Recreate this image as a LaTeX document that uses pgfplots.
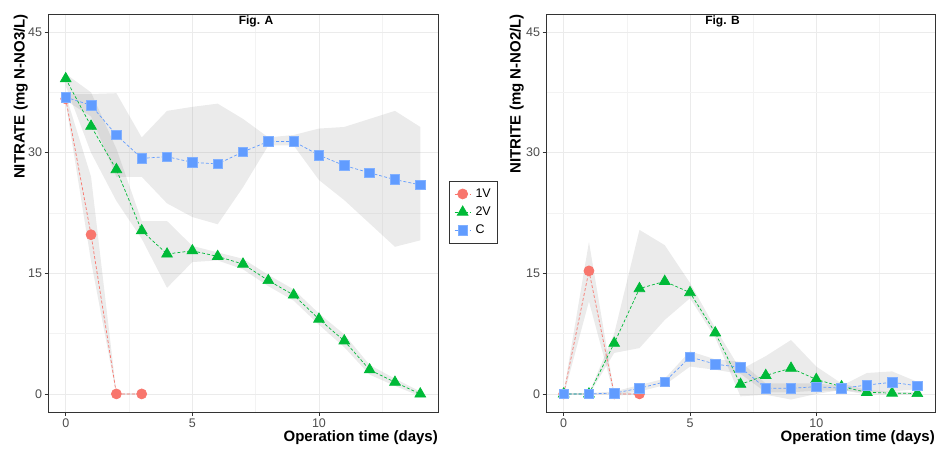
\documentclass[border=0pt]{standalone}
\usepackage{fontspec}
\setmainfont{Liberation Sans}
\usepackage{pgfplots}
\pgfplotsset{compat=1.18}
\definecolor{c1}{HTML}{F8766D}
\definecolor{c2}{HTML}{00BA38}
\definecolor{c3}{HTML}{619CFF}
\definecolor{gridc}{HTML}{EBEBEB}
\definecolor{gridm}{HTML}{F3F3F3}
\definecolor{framec}{HTML}{333333}
\definecolor{tickc}{HTML}{4D4D4D}
\pgfplotsset{
 panel/.style={
  scale only axis, height=398pt,
  xmin=-0.7,xmax=14.7,ymin=-2.25,ymax=47.25,
  xtick={0,5,10}, ytick={0,15,30,45},
  minor xtick={2.5,7.5,12.5}, minor ytick={7.5,22.5,37.5},
  grid=both,
  major grid style={draw=gridc, line width=0.8pt},
  minor grid style={draw=gridm, line width=0.5pt},
  axis line style={draw=framec, line width=0.8pt},
  tick align=outside, tick pos=left,
  major tick length=3.5pt, minor tick length=0pt,
  every tick/.style={draw=framec, line width=0.8pt},
  tick label style={font=\fontsize{12.5}{13}\selectfont, text=tickc},
  yticklabel style={xshift=1pt},
  /pgf/number format/assume math mode=true,
 },
 rib/.style={fill=black!40, fill opacity=0.2, draw=none, forget plot},
 s1/.style={c1, dash pattern=on 3pt off 2pt, line width=0.7pt, mark=*, mark size=5pt, mark options={solid, fill=c1, draw=c1}},
 s2/.style={c2, dash pattern=on 3pt off 2pt, line width=0.7pt, mark=triangle*, mark size=6.2pt, mark options={solid, fill=c2, draw=c2}},
 s3/.style={c3, dash pattern=on 3pt off 2pt, line width=0.7pt, mark=square*, mark size=4.8pt, mark options={solid, fill=c3, draw=c3!80!white}},
}
\begin{document}
\begin{tikzpicture}
\useasboundingbox (0,0) rectangle (936pt,448pt);
% ---------- Fig. A ----------
\begin{axis}[panel, width=390pt, at={(48pt,36pt)}, anchor=south west,
  legend style={at={(1.028,0.5804)}, anchor=north west, draw=framec, line width=0.8pt,
    font=\fontsize{12.5}{14}\selectfont, cells={anchor=west}, row sep=5pt,
    inner xsep=5pt, inner ysep=6pt, nodes={inner sep=1.5pt},
    /tikz/every odd column/.append style={column sep=3pt}},
  legend image code/.code={\draw[mark repeat=2,mark phase=2,#1] plot coordinates {(0pt,0pt) (8pt,0pt) (16pt,0pt)};}]
% ribbons
\addplot[rib] coordinates {(0,37.2)(1,27)(2,0.1)(3,0.1)(3,-0.1)(2,-0.1)(1,16.5)(0,36.2)} -- cycle;
\addplot[rib] coordinates {(0,39.8)(1,37.5)(2,30.5)(3,21.5)(4,21.5)(5,18.4)(6,17.6)(7,16.8)(8,14.8)(9,13.0)(10,10.0)(11,7.4)(12,3.6)(13,1.9)(14,0.3)
 (14,-0.3)(13,1.0)(12,2.4)(11,5.8)(10,8.6)(9,11.6)(8,13.4)(7,15.5)(6,16.6)(5,16.4)(4,13.2)(3,19.3)(2,24.0)(1,30.0)(0,38.3)} -- cycle;
\addplot[rib] coordinates {(0,37.3)(1,37.3)(2,37.4)(3,31.9)(4,35.2)(5,35.7)(6,36.1)(7,34.2)(8,31.9)(9,32.2)(10,33.0)(11,33.2)(12,34.2)(13,35.2)(14,33.2)
 (14,19.1)(13,18.3)(12,21.2)(11,24.1)(10,26.6)(9,30.9)(8,30.9)(7,25.7)(6,21.1)(5,22.0)(4,23.7)(3,27.0)(2,27.0)(1,34.5)(0,36.5)} -- cycle;
% series
\addplot[s1] coordinates {(0,36.7)(1,19.8)(2,0)(3,0)};
\addlegendentry{1V}
\addplot[s2] coordinates {(0,39.2)(1,33.3)(2,27.9)(3,20.3)(4,17.4)(5,17.8)(6,17.1)(7,16.15)(8,14.1)(9,12.3)(10,9.3)(11,6.6)(12,3.0)(13,1.45)(14,0)};
\addlegendentry{2V}
\addplot[s3] coordinates {(0,36.9)(1,35.9)(2,32.2)(3,29.3)(4,29.5)(5,28.8)(6,28.6)(7,30.1)(8,31.4)(9,31.4)(10,29.7)(11,28.4)(12,27.5)(13,26.65)(14,26.0)};
\addlegendentry{C}
\end{axis}
% ---------- Fig. B ----------
\begin{axis}[panel, width=389pt, at={(546pt,36pt)}, anchor=south west]
\addplot[rib] coordinates {(0,0.2)(1,18.9)(2,0.2)(3,0.1)(3,-0.1)(2,-0.2)(1,11.5)(0,-0.2)} -- cycle;
\addplot[rib] coordinates {(0,0.1)(1,0.1)(2,7.5)(3,20.4)(4,18.5)(5,13.8)(6,8.2)(7,3.0)(8,4.7)(9,6.7)(10,3.4)(11,1.3)(12,0.5)(13,0.3)(14,0.2)
 (14,-0.1)(13,-0.1)(12,-0.1)(11,0.5)(10,0)(9,-0.7)(8,-0.1)(7,-0.3)(6,7.0)(5,11.9)(4,9.2)(3,5.7)(2,5.1)(1,-0.1)(0,-0.1)} -- cycle;
\addplot[rib] coordinates {(0,0.1)(1,0.1)(2,0.3)(3,1.1)(4,1.9)(5,5.3)(6,4.3)(7,4.0)(8,1.3)(9,1.3)(10,1.3)(11,1.0)(12,2.6)(13,2.8)(14,1.5)
 (14,0.6)(13,0.3)(12,0.2)(11,0.4)(10,0.4)(9,0.2)(8,0.2)(7,2.5)(6,3.0)(5,3.4)(4,1.1)(3,0.3)(2,-0.1)(1,-0.1)(0,-0.1)} -- cycle;
\addplot[s1, forget plot] coordinates {(0,0)(1,15.3)(2,0)(3,0)};
\addplot[s2, forget plot] coordinates {(0,0)(1,0)(2,6.3)(3,13.1)(4,14.0)(5,12.6)(6,7.6)(7,1.2)(8,2.3)(9,3.2)(10,1.8)(11,0.9)(12,0.2)(13,0.1)(14,0.05)};
\addplot[s3, forget plot] coordinates {(0,0)(1,0)(2,0.1)(3,0.7)(4,1.5)(5,4.6)(6,3.7)(7,3.3)(8,0.7)(9,0.7)(10,0.9)(11,0.7)(12,1.1)(13,1.45)(14,1.0)};
\end{axis}
% labels
\node[font=\fontsize{15}{18}\selectfont\bfseries, rotate=90, anchor=base east, inner sep=0pt] at (24.5pt,434pt) {NITRATE (mg N-NO3/L)};
\node[font=\fontsize{15}{18}\selectfont\bfseries, anchor=base east, inner sep=0pt] at (438pt,7pt) {Operation time (days)};
\node[font=\fontsize{12}{14}\selectfont\bfseries, anchor=base, inner sep=0pt] at (256pt,423pt) {Fig. A};
\node[font=\fontsize{15}{18}\selectfont\bfseries, rotate=90, anchor=base east, inner sep=0pt] at (520.5pt,434pt) {NITRITE (mg N-NO2/L)};
\node[font=\fontsize{15}{18}\selectfont\bfseries, anchor=base east, inner sep=0pt] at (935pt,7pt) {Operation time (days)};
\node[font=\fontsize{12}{14}\selectfont\bfseries, anchor=base, inner sep=0pt] at (722.5pt,423pt) {Fig. B};
\end{tikzpicture}
\end{document}
